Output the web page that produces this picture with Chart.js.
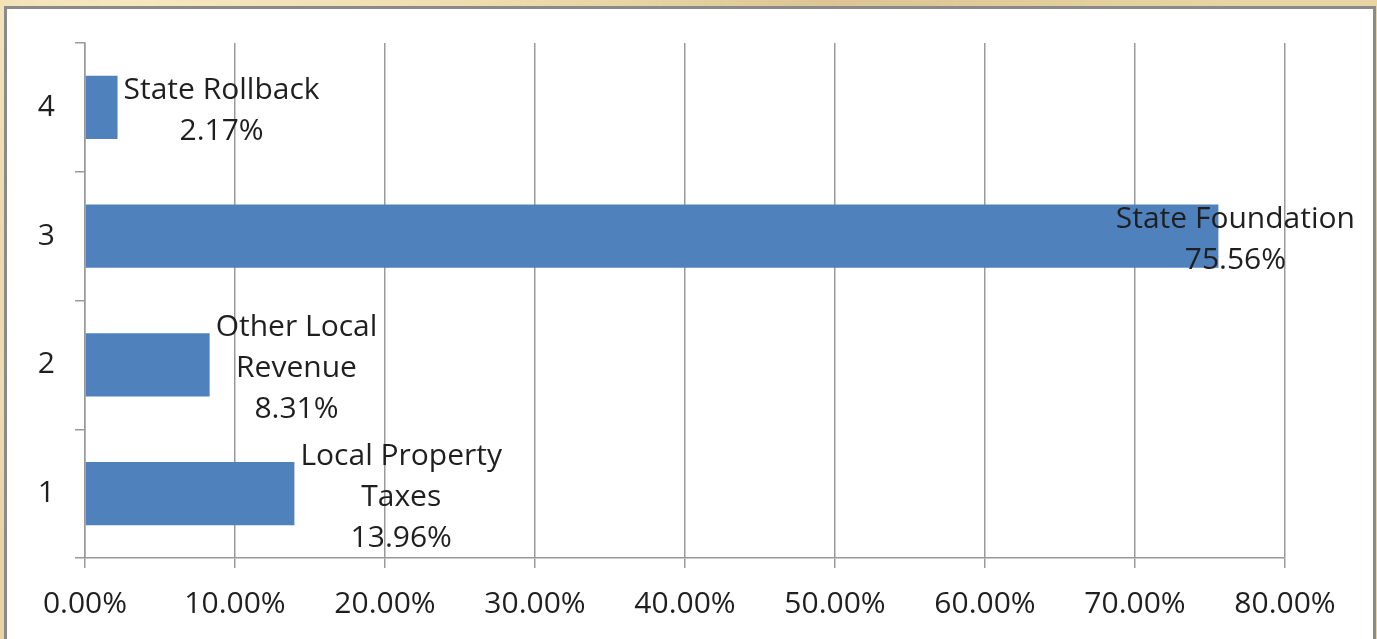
<!DOCTYPE html>
<html><head><meta charset="utf-8">
<script src="https://cdn.jsdelivr.net/npm/chart.js@4"></script>
<style>
html,body{margin:0;padding:0;width:1377px;height:639px;overflow:hidden;}
body{background-color:#e8d4a4;
background-image:
 radial-gradient(ellipse at 10% 0%, rgba(250,235,195,0.8), rgba(250,235,195,0) 40%),
 radial-gradient(ellipse at 60% 0%, rgba(215,190,140,0.7), rgba(215,190,140,0) 35%),
 radial-gradient(ellipse at 0% 60%, rgba(240,222,180,0.9), rgba(240,222,180,0) 30%),
 radial-gradient(ellipse at 100% 40%, rgba(220,198,150,0.9), rgba(220,198,150,0) 30%);}
#panel{position:absolute;left:4px;top:6px;width:1366px;height:640px;background:#fff;border:3px solid #8a8a8a;border-bottom:none;}
#wrap{position:absolute;left:0;top:0;width:1377px;height:639px;}
</style></head>
<body><div id="panel"></div><div id="wrap"><canvas id="c"></canvas></div>
<script>
const categories = ['1', '2', '3', '4'];
const shares = [13.96, 8.31, 75.56, 2.17];
const labelLines = [['Local Property', 'Taxes'], ['Other Local', 'Revenue'], ['State Foundation'], ['State Rollback']];
const xMin = 0, xMax = 80, xStep = 10;

const FONT = "'Open Sans', sans-serif";
const TEXT = '#1f1f1f';
const GRID = '#9a9a9a';

const barLabels = {
  id: 'barLabels',
  afterDatasetsDraw(chart) {
    const ctx = chart.ctx;
    const meta = chart.getDatasetMeta(0);
    ctx.save();
    ctx.font = '30px ' + FONT;
    ctx.fillStyle = TEXT;
    ctx.textAlign = 'center';
    ctx.textBaseline = 'middle';
    const lh = 41;
    meta.data.forEach((el, i) => {
      const lines = labelLines[i].concat([shares[i].toFixed(2) + '%']);
      const w = Math.max(...lines.map(s => ctx.measureText(s).width));
      let left = el.x + 6;
      const limit = chart.width - 22;
      if (left + w > limit) left = limit - w;
      const cx = left + w / 2;
      const top = el.y + 4 - (lines.length - 1) * lh / 2;
      lines.forEach((s, k) => ctx.fillText(s, cx, top + k * lh));
    });
    ctx.restore();
  }
};

new Chart(document.getElementById('c'), {
  type: 'bar',
  data: {
    labels: categories,
    datasets: [{
      data: shares,
      backgroundColor: '#4f81bd',
      borderWidth: 0,
      categoryPercentage: 1,
      barPercentage: 0.49
    }]
  },
  options: {
    indexAxis: 'y',
    responsive: true,
    maintainAspectRatio: false,
    animation: false,
    layout: { padding: { top: 43, right: 92, bottom: 0, left: 0 } },
    plugins: { legend: { display: false }, tooltip: { enabled: false } },
    scales: {
      x: {
        min: xMin, max: xMax,
        ticks: { stepSize: xStep, color: TEXT, font: { family: FONT, size: 30 }, padding: 18,
          callback: v => Number(v).toFixed(2) + '%' },
        grid: { color: GRID, lineWidth: 1.5, tickLength: 10, drawTicks: true },
        border: { color: GRID, width: 1.5 },
        afterFit: s => { s.height = 81; }
      },
      y: {
        reverse: true,
        ticks: { color: TEXT, font: { family: FONT, size: 30 }, padding: 20 },
        grid: { color: GRID, lineWidth: 1.5, tickLength: 10, drawOnChartArea: false, offset: true },
        border: { color: GRID, width: 1.5 },
        afterFit: s => { s.width = 85; }
      }
    }
  },
  plugins: [barLabels]
});
</script>
</body></html>
